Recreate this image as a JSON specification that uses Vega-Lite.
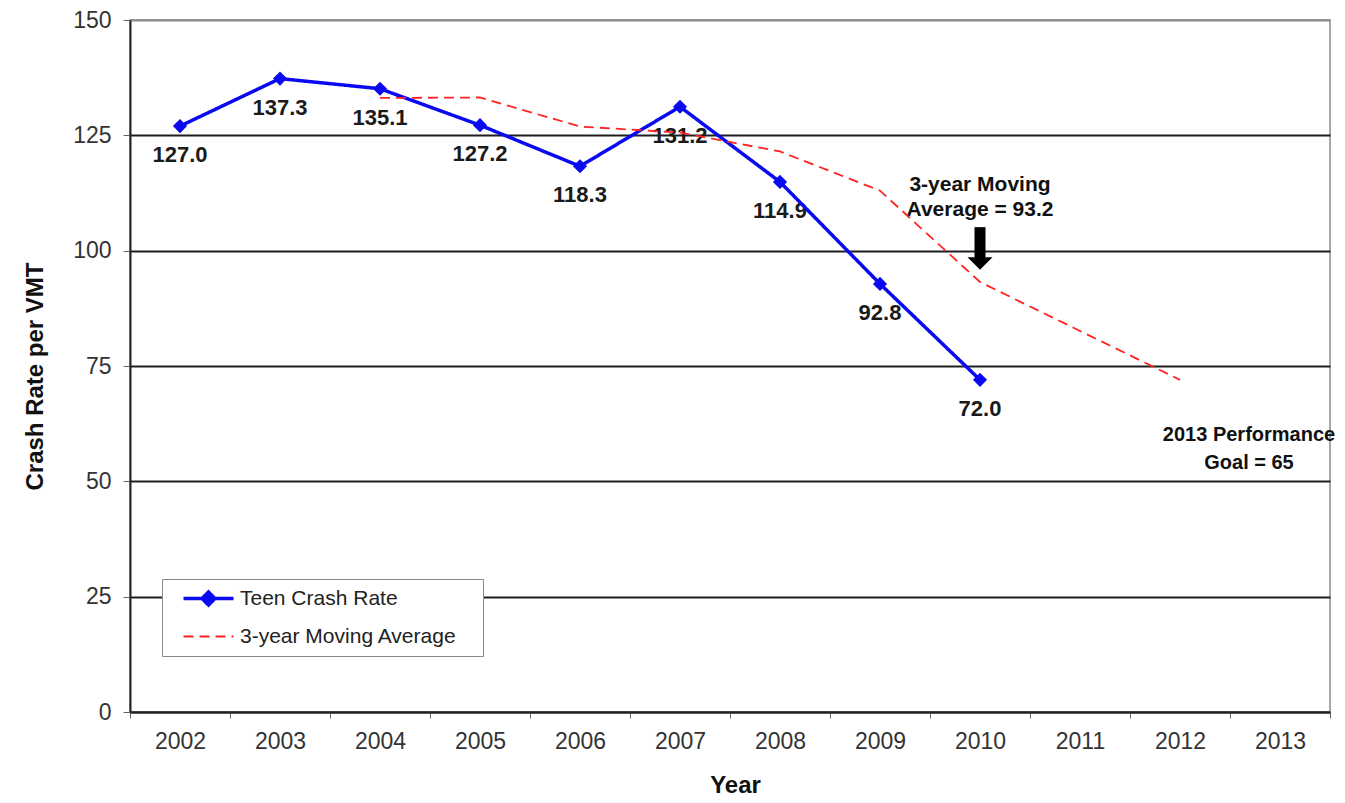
{
  "$schema": "https://vega.github.io/schema/vega-lite/v6.json",
  "width": 1200,
  "height": 692,
  "autosize": {"type": "none"},
  "padding": {"left": 130, "top": 20, "right": 15, "bottom": 91},
  "background": "white",
  "config": {
    "font": "Liberation Sans",
    "view": {"stroke": "#8a8a8a", "strokeWidth": 1.5}
  },
  "datasets": {
    "series": [
      {"Year": "2002", "Series": "Teen Crash Rate", "Value": 127.0},
      {"Year": "2003", "Series": "Teen Crash Rate", "Value": 137.3},
      {"Year": "2004", "Series": "Teen Crash Rate", "Value": 135.1},
      {"Year": "2005", "Series": "Teen Crash Rate", "Value": 127.2},
      {"Year": "2006", "Series": "Teen Crash Rate", "Value": 118.3},
      {"Year": "2007", "Series": "Teen Crash Rate", "Value": 131.2},
      {"Year": "2008", "Series": "Teen Crash Rate", "Value": 114.9},
      {"Year": "2009", "Series": "Teen Crash Rate", "Value": 92.8},
      {"Year": "2010", "Series": "Teen Crash Rate", "Value": 72.0},
      {"Year": "2004", "Series": "3-year Moving Average", "Value": 133.1},
      {"Year": "2005", "Series": "3-year Moving Average", "Value": 133.2},
      {"Year": "2006", "Series": "3-year Moving Average", "Value": 126.9},
      {"Year": "2007", "Series": "3-year Moving Average", "Value": 125.6},
      {"Year": "2008", "Series": "3-year Moving Average", "Value": 121.5},
      {"Year": "2009", "Series": "3-year Moving Average", "Value": 113.0},
      {"Year": "2010", "Series": "3-year Moving Average", "Value": 93.2},
      {"Year": "2011", "Series": "3-year Moving Average", "Value": 82.6},
      {"Year": "2012", "Series": "3-year Moving Average", "Value": 72.0}
    ]
  },
  "encoding": {
    "x": {
      "field": "Year",
      "type": "ordinal",
      "scale": {"type": "band", "domain": ["2002","2003","2004","2005","2006","2007","2008","2009","2010","2011","2012","2013"], "paddingInner": 0, "paddingOuter": 0},
      "axis": {
        "title": "Year",
        "titleFontSize": 24,
        "titleFontWeight": "bold",
        "titleColor": "#111",
        "titleX": 605,
        "titleY": 73,
        "titleBaseline": "middle",
        "titleAnchor": "start",
        "titleAlign": "center",
        "labelAngle": 0,
        "labelFontSize": 23,
        "labelColor": "#333",
        "labelPadding": 12,
        "tickBand": "extent",
        "tickSize": 6,
        "tickColor": "#666",
        "domainColor": "#222",
        "domainWidth": 2,
        "grid": false
      }
    }
  },
  "layer": [
    {
      "data": {"values": [{"Year": "2010", "y": 114.2, "label": "3-year Moving\nAverage = 93.2"}]},
      "mark": {"type": "text", "lineBreak": "\n", "fontWeight": "bold", "fontSize": 21, "lineHeight": 25, "baseline": "middle", "align": "center", "color": "#111"},
      "encoding": {
        "y": {"field": "y", "type": "quantitative"},
        "text": {"field": "label"}
      }
    },
    {
      "data": {"values": [{"Year": "2013", "y": 60.0, "label": "2013 Performance\nGoal = 65"}]},
      "mark": {"type": "text", "lineBreak": "\n", "fontWeight": "bold", "fontSize": 20, "lineHeight": 28, "baseline": "middle", "align": "center", "dx": -31, "color": "#111"},
      "encoding": {
        "y": {"field": "y", "type": "quantitative"},
        "text": {"field": "label"}
      }
    },
    {
      "data": {"name": "series"},
      "transform": [{"filter": "datum.Series === 'Teen Crash Rate'"}],
      "mark": {"type": "text", "fontWeight": "bold", "fontSize": 22, "dy": 29, "baseline": "middle", "align": "center", "color": "#1a1a1a"},
      "encoding": {
        "y": {"field": "Value", "type": "quantitative"},
        "text": {"field": "Value", "type": "quantitative", "format": ".1f"}
      }
    },
    {
      "data": {"name": "series"},
      "mark": {"type": "line", "strokeCap": "butt"},
      "encoding": {
        "y": {
          "field": "Value",
          "type": "quantitative",
          "scale": {"domain": [0, 150], "nice": false},
          "axis": {
            "title": "Crash Rate per VMT",
            "titleFontSize": 24,
            "titleFontWeight": "bold",
            "titleColor": "#111",
            "titleAngle": -90,
            "titleX": -95,
            "titleY": 356,
            "titleAlign": "center",
            "titleBaseline": "middle",
            "values": [0, 25, 50, 75, 100, 125, 150],
            "labelFontSize": 23,
            "labelColor": "#333",
            "labelPadding": 12,
            "tickSize": 7,
            "tickColor": "#666",
            "domainColor": "#222",
            "domainWidth": 2,
            "grid": true,
            "gridColor": {"condition": {"test": "datum.value === 150", "value": "#8a8a8a"}, "value": "#1e1e1e"},
            "gridWidth": 1.8
          }
        },
        "color": {
          "field": "Series",
          "type": "nominal",
          "scale": {"domain": ["Teen Crash Rate", "3-year Moving Average"], "range": ["#0A0AF0", "#FF2222"]},
          "legend": {
            "title": null,
            "orient": "none",
            "legendX": 32,
            "legendY": 559,
            "direction": "vertical",
            "fillColor": "white",
            "strokeColor": "#8a8a8a",
            "padding": 9,
            "rowPadding": 13,
            "symbolOffset": 27,
            "symbolType": "M-5,0L5,0",
            "symbolSize": 100,
            "symbolStrokeWidth": 2.5,
            "labelFontSize": 21,
            "labelColor": "#222",
            "labelOffset": 21,
            "labelLimit": 500,
            "encode": {
              "symbols": {
                "update": {
                  "shape": {"signal": "datum.value === 'Teen Crash Rate' ? 'M-5,0L5,0M0,-1.3L1.3,0L0,1.3L-1.3,0ZM51.6,0' : 'M-5,0L5,0M51.6,0'"},
                  "fill": {"signal": "datum.value === 'Teen Crash Rate' ? '#0A0AF0' : 'transparent'"},
                  "strokeWidth": {"signal": "datum.value === 'Teen Crash Rate' ? 3 : 1.8"}
                }
              }
            }
          }
        },
        "strokeDash": {
          "field": "Series",
          "type": "nominal",
          "scale": {"domain": ["Teen Crash Rate", "3-year Moving Average"], "range": [[1, 0], [10, 6]]}
        },
        "strokeWidth": {
          "field": "Series",
          "type": "nominal",
          "scale": {"domain": ["Teen Crash Rate", "3-year Moving Average"], "range": [3.5, 1.8]},
          "legend": null
        }
      }
    },
    {
      "data": {"name": "series"},
      "transform": [{"filter": "datum.Series === 'Teen Crash Rate'"}],
      "mark": {"type": "point", "shape": "diamond", "filled": true, "size": 200, "color": "#0A0AF0", "opacity": 1},
      "encoding": {
        "y": {"field": "Value", "type": "quantitative"}
      }
    },
    {
      "data": {"values": [{"Year": "2010", "top": 105.1, "bottom": 98.4}]},
      "mark": {"type": "rule", "color": "#000", "strokeWidth": 11, "strokeCap": "butt"},
      "encoding": {
        "y": {"field": "top", "type": "quantitative"},
        "y2": {"field": "bottom"}
      }
    },
    {
      "data": {"values": [{"Year": "2010", "tip": 97.2}]},
      "mark": {"type": "point", "shape": "M-1,-0.5L1,-0.5L0,0.5Z", "filled": true, "size": 625, "color": "#000", "opacity": 1},
      "encoding": {
        "y": {"field": "tip", "type": "quantitative"}
      }
    }
  ]
}
